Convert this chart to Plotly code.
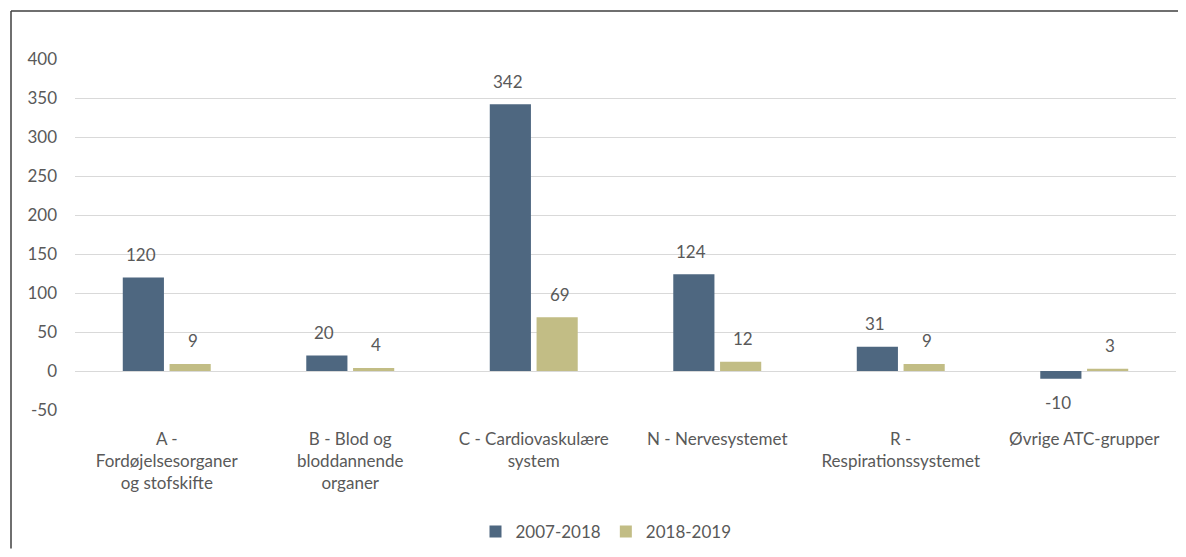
import plotly.graph_objects as go

categories = [
    "A -<br>Fordøjelsesorganer<br>og stofskifte",
    "B - Blod og<br>bloddannende<br>organer",
    "C - Cardiovaskulære<br>system",
    "N - Nervesystemet",
    "R -<br>Respirationssystemet",
    "Øvrige ATC-grupper",
]
series_names = ["2007-2018", "2018-2019"]
values_2007_2018 = [120, 20, 342, 124, 31, -10]
values_2018_2019 = [9, 4, 69, 12, 9, 3]
y_ticks = [-50, 0, 50, 100, 150, 200, 250, 300, 350, 400]
y_tick_labels = ["-50", "0", "50", "100", "150", "200", "250", "300", "350", "400"]

colors = ["#4E6780", "#C2BD85"]
FONT = "Lato, Calibri, Carlito, sans-serif"
TXT = "#595959"

# page body has an 8px margin, so the figure is drawn from (8, 8); keep it inside the window
W, H = 1170, 541
ML, MT = 67, 51
PW, PH = 1101, 351.4
MR = W - ML - PW
MB = H - MT - PH

fig = go.Figure()
for name, vals, col in zip(series_names, [values_2007_2018, values_2018_2019], colors):
    fig.add_trace(go.Bar(x=categories, y=vals, name=name, marker=dict(color=col, line=dict(width=0))))

# data labels
offsets = [-26, 26]
for vals, dx in zip([values_2007_2018, values_2018_2019], offsets):
    for c, v in zip(categories, vals):
        fig.add_annotation(x=c, y=v, text=str(v), showarrow=False, xshift=dx,
                           yshift=23 if v >= 0 else -24, yanchor="middle",
                           font=dict(family=FONT, size=17, color=TXT))

# outer frame: top and left edges (right and bottom edges lie off the canvas)
bx0 = (3 - ML) / PW
bx1 = (W - ML) / PW
by0 = -MB / PH
by1 = (PH + MT - 3) / PH
frame = dict(color="#3f3f3f", width=1.5)
fig.add_shape(type="line", xref="paper", yref="paper", x0=bx0, x1=bx1, y0=by1, y1=by1, line=frame, layer="above")
fig.add_shape(type="line", xref="paper", yref="paper", x0=bx0, x1=bx0, y0=by0, y1=by1, line=frame, layer="above")

fig.update_layout(
    width=W, height=H,
    margin=dict(l=ML, r=MR, t=MT, b=MB, autoexpand=False),
    paper_bgcolor="white", plot_bgcolor="white",
    barmode="group", bargap=0.49, bargroupgap=0.12,
    font=dict(family=FONT, size=17, color=TXT),
    showlegend=True,
    legend=dict(orientation="h", x=(606 - 8 - ML) / PW, xanchor="center", yref="container",
                y=(H - 524) / H, yanchor="middle",
                font=dict(family=FONT, size=17, color=TXT), itemwidth=30, traceorder="normal"),
    xaxis=dict(showgrid=False, showline=False, ticks="", tickfont=dict(family=FONT, size=17, color=TXT),
               ticklabelstandoff=17, automargin=False),
    yaxis=dict(range=[-50, 400], tickvals=y_ticks, ticktext=y_tick_labels, showgrid=True,
               gridcolor="#D9D9D9", gridwidth=1.3,
               zeroline=True, zerolinecolor="#D9D9D9", zerolinewidth=1.3, showline=False, ticks="",
               ticklabelstandoff=17, tickfont=dict(family=FONT, size=17, color=TXT), automargin=False),
)

fig.write_html("out.html", config={"displayModeBar": False})
